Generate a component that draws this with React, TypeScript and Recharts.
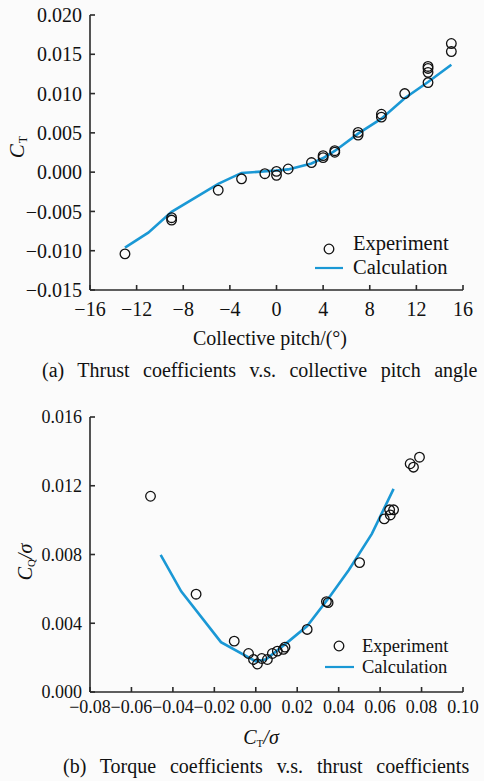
import React from 'react';
import { ComposedChart, Line, Scatter, XAxis, YAxis } from 'recharts';

// (a) Thrust coefficient vs collective pitch
const pitchExp = [-13, -9, -9, -5, -3, -1, 0, 0, 1, 3, 4, 4, 5, 5, 7, 7, 9, 9, 11, 13, 13, 13, 13, 15, 15];
const ctExp = [-0.0104, -0.0058, -0.0061, -0.0023, -0.00085, -0.0002, 0.0001, -0.0004, 0.0004, 0.00122, 0.0021, 0.00185, 0.00273, 0.00253, 0.00506, 0.00472, 0.00737, 0.007, 0.01, 0.01345, 0.0132, 0.0127, 0.0114, 0.01637, 0.01535];
const pitchCalc = [-13, -11, -9, -5, -3, 0, 1, 3, 4, 5, 7, 9, 11, 13, 15];
const ctCalc = [-0.0096, -0.0077, -0.00506, -0.0015, -0.0001, 0.0002, 0.00035, 0.0011, 0.0018, 0.0027, 0.0049, 0.0068, 0.0094, 0.01147, 0.01367];
const pitchTicks = [-16, -12, -8, -4, 0, 4, 8, 12, 16];
const ctTicks = [-0.015, -0.01, -0.005, 0, 0.005, 0.01, 0.015, 0.02];

// (b) Torque coefficient vs thrust coefficient
const ctsExp = [-0.0508, -0.0288, -0.0104, -0.0035, -0.0011, 0.0008, 0.0029, 0.0056, 0.008, 0.0104, 0.0133, 0.0141, 0.0248, 0.0341, 0.0349, 0.0501, 0.062, 0.0646, 0.0649, 0.0665, 0.0745, 0.0761, 0.079];
const cqsExp = [0.01139, 0.00569, 0.00296, 0.00224, 0.00189, 0.00163, 0.00195, 0.00189, 0.00224, 0.00238, 0.00248, 0.00261, 0.00364, 0.00526, 0.0052, 0.00753, 0.01007, 0.0106, 0.0103, 0.0106, 0.01328, 0.01308, 0.01366];
const ctsCalc = [-0.0459, -0.036, -0.0168, 0.0, 0.005, 0.016, 0.0248, 0.036, 0.0449, 0.056, 0.0665];
const cqsCalc = [0.00798, 0.00586, 0.0029, 0.00178, 0.0019, 0.00296, 0.00384, 0.0056, 0.0071, 0.0092, 0.01182];
const ctsTicks = [-0.08, -0.06, -0.04, -0.02, 0, 0.02, 0.04, 0.06, 0.08, 0.1];
const cqsTicks = [0, 0.004, 0.008, 0.012, 0.016];

const FONT = 'Liberation Serif';
const AXIS = '#2a2a2a';
const BLUE = '#1a98d5';
const INK = '#111';

const signed = (s: string) => s.replace('-', '\u2212');
const fmtInt = (v: number) => signed(String(v));
const fmt3 = (v: number) => signed(v.toFixed(3));
const fmt2 = (v: number) => signed(v.toFixed(2));

const Ring = (props: any) => (
  <circle cx={props.cx} cy={props.cy} r={4.8} fill="none" stroke={INK} strokeWidth={1.3} />
);

const axisLine = { stroke: AXIS, strokeWidth: 1.6 };

export default function App() {
  const expA = pitchExp.map((x, i) => ({ x, y: ctExp[i] }));
  const calcA = pitchCalc.map((x, i) => ({ x, y: ctCalc[i] }));
  const expB = ctsExp.map((x, i) => ({ x, y: cqsExp[i] }));
  const calcB = ctsCalc.map((x, i) => ({ x, y: cqsCalc[i] }));

  return (
    <div style={{ position: 'absolute', left: 0, top: 0, width: 484, height: 781, background: '#fbfbfb', overflow: 'hidden', fontFamily: FONT }}>
      <div style={{ position: 'absolute', left: 0, top: 0 }}>
        <ComposedChart width={484} height={360} margin={{ top: 15, right: 21, left: 0, bottom: 0 }} style={{ fontFamily: FONT }}>
          <XAxis
            type="number"
            dataKey="x"
            domain={[-16, 16]}
            ticks={pitchTicks}
            interval={0}
            tickFormatter={fmtInt}
            height={70}
            axisLine={axisLine}
            tickLine={axisLine}
            tickSize={-5}
            tickMargin={17}
            tick={{ fill: INK, fontSize: 20, fontFamily: FONT }}
            allowDataOverflow
          />
          <YAxis
            type="number"
            dataKey="y"
            domain={[-0.015, 0.02]}
            ticks={ctTicks}
            interval={0}
            tickFormatter={fmt3}
            width={90}
            axisLine={axisLine}
            tickLine={axisLine}
            tickSize={-5}
            tickMargin={13}
            tick={{ fill: INK, fontSize: 20, fontFamily: FONT }}
            allowDataOverflow
          />
          <Line data={calcA} dataKey="y" type="linear" stroke={BLUE} strokeWidth={2.6} dot={false} isAnimationActive={false} />
          <Scatter data={expA} dataKey="y" shape={Ring} isAnimationActive={false} />
        </ComposedChart>
      </div>

      <div style={{ position: 'absolute', left: 0, top: 400 }}>
        <ComposedChart width={484} height={381} margin={{ top: 17, right: 21, left: 0, bottom: 0 }} style={{ fontFamily: FONT }}>
          <XAxis
            type="number"
            dataKey="x"
            domain={[-0.08, 0.1]}
            ticks={ctsTicks}
            interval={0}
            tickFormatter={fmt2}
            height={89}
            axisLine={axisLine}
            tickLine={axisLine}
            tickSize={-5}
            tickMargin={13}
            tick={{ fill: INK, fontSize: 18, fontFamily: FONT }}
            allowDataOverflow
          />
          <YAxis
            type="number"
            dataKey="y"
            domain={[0, 0.016]}
            ticks={cqsTicks}
            interval={0}
            tickFormatter={fmt3}
            width={90}
            axisLine={axisLine}
            tickLine={axisLine}
            tickSize={-5}
            tickMargin={13}
            tick={{ fill: INK, fontSize: 18, fontFamily: FONT }}
            allowDataOverflow
          />
          <Line data={calcB} dataKey="y" type="linear" stroke={BLUE} strokeWidth={2.6} dot={false} isAnimationActive={false} />
          <Scatter data={expB} dataKey="y" shape={Ring} isAnimationActive={false} />
        </ComposedChart>
      </div>

      <svg width={484} height={781} style={{ position: 'absolute', left: 0, top: 0, pointerEvents: 'none', fontFamily: FONT }} fill={INK}>
        {/* (a) axis titles */}
        <text transform="translate(24,147) rotate(-90)" textAnchor="middle" fontSize={21}>
          <tspan fontStyle="italic">C</tspan>
          <tspan fontSize={12} dx={1} dy={3}>T</tspan>
        </text>
        <text x={270} y={345} textAnchor="middle" fontSize={20}>Collective pitch/(&#176;)</text>
        <text x={42} y={377} fontSize={20} wordSpacing={8.5}>(a) Thrust coefficients v.s. collective pitch angle</text>

        {/* (a) legend */}
        <circle cx={329} cy={249} r={4.8} fill="none" stroke={INK} strokeWidth={1.3} />
        <text x={353} y={250} fontSize={20.5}>Experiment</text>
        <line x1={315} y1={268} x2={343} y2={268} stroke={BLUE} strokeWidth={2.2} />
        <text x={353} y={274} fontSize={20.5}>Calculation</text>

        {/* (b) axis titles */}
        <text transform="translate(32,562) rotate(-90)" textAnchor="middle" fontSize={20}>
          <tspan fontStyle="italic">C</tspan>
          <tspan fontSize={11} dy={3}>Q</tspan>
          <tspan fontStyle="italic" dy={-3}>/σ</tspan>
        </text>
        <text x={261} y={744} textAnchor="middle" fontSize={20}>
          <tspan fontStyle="italic">C</tspan>
          <tspan fontSize={11} dy={3}>T</tspan>
          <tspan fontStyle="italic" dy={-3}>/σ</tspan>
        </text>
        <text x={63} y={773} fontSize={20} wordSpacing={8.8}>(b) Torque coefficients v.s. thrust coefficients</text>

        {/* (b) legend */}
        <circle cx={339} cy={646} r={4.8} fill="none" stroke={INK} strokeWidth={1.3} />
        <text x={362} y={652} fontSize={18.5}>Experiment</text>
        <line x1={325} y1={667} x2={354} y2={667} stroke={BLUE} strokeWidth={2.2} />
        <text x={362} y={673} fontSize={18.5}>Calculation</text>
      </svg>
    </div>
  );
}
